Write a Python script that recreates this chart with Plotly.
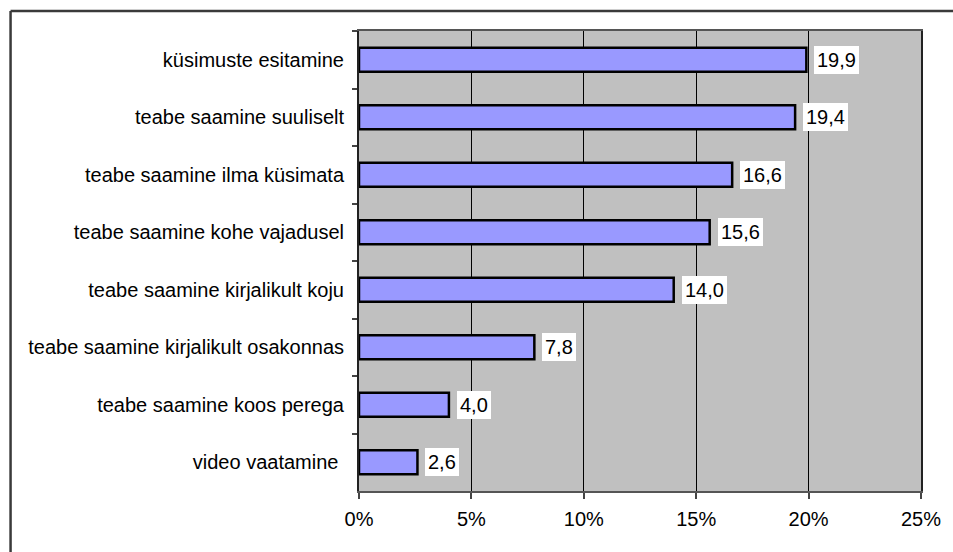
import plotly.graph_objects as go

# Survey items (top to bottom) and their shares in percent
categories = [
    "küsimuste esitamine",
    "teabe saamine suuliselt",
    "teabe saamine ilma küsimata",
    "teabe saamine kohe vajadusel",
    "teabe saamine kirjalikult koju",
    "teabe saamine kirjalikult osakonnas",
    "teabe saamine koos perega",
    "video vaatamine ",
]
values = [19.9, 19.4, 16.6, 15.6, 14.0, 7.8, 4.0, 2.6]
value_labels = ["19,9", "19,4", "16,6", "15,6", "14,0", "7,8", "4,0", "2,6"]
x_ticks = [0, 5, 10, 15, 20, 25]
x_tick_labels = ["0%", "5%", "10%", "15%", "20%", "25%"]

FONT = "Liberation Sans, Arial, sans-serif"
FONT_SIZE = 20

fig = go.Figure(
    go.Bar(
        x=values,
        y=categories,
        orientation="h",
        width=0.42,
        marker=dict(color="#9999FF", line=dict(color="black", width=2.5)),
        hoverinfo="skip",
    )
)

# value labels on white boxes to the right of each bar
for cat, v, lab in zip(categories, values, value_labels):
    fig.add_annotation(
        x=v, y=cat, xref="x", yref="y",
        text=lab, showarrow=False,
        xanchor="left", xshift=8,
        bgcolor="white", borderpad=3, borderwidth=0,
        font=dict(family=FONT, size=FONT_SIZE, color="black"),
    )

# outer chart frame: only its left and top edges fall inside the page
frame = dict(color="#3a3a3a", width=2.5)
fig.add_shape(type="line", xref="paper", yref="paper",
              x0=-0.620, x1=-0.620, y0=-1.0, y1=1.0435, line=frame, layer="below")
fig.add_shape(type="line", xref="paper", yref="paper",
              x0=-0.620, x1=2.0, y0=1.0435, y1=1.0435, line=frame, layer="below")

fig.update_layout(
    width=953, height=552,
    margin=dict(l=359, r=28, t=31, b=61),
    paper_bgcolor="white",
    plot_bgcolor="#C0C0C0",
    showlegend=False,
    font=dict(family=FONT, size=FONT_SIZE, color="black"),
    xaxis=dict(
        range=[0, 25],
        tickvals=x_ticks,
        ticktext=x_tick_labels,
        showgrid=True, gridcolor="black", gridwidth=1,
        zeroline=False,
        showline=True, linecolor="#555555", linewidth=1.5, mirror=True,
        ticks="outside", ticklen=6, tickcolor="#444444", tickwidth=1.5,
        ticklabelstandoff=3,
        fixedrange=True,
    ),
    yaxis=dict(
        autorange="reversed",
        showgrid=False,
        showline=True, linecolor="#222222", linewidth=2, mirror=True,
        ticks="outside", ticklen=5, tickcolor="#444444", tickwidth=1.5,
        tickson="boundaries",
        ticklabelstandoff=9,
        fixedrange=True,
    ),
    bargap=0.58,
)

fig.write_html("out.html", config={"displayModeBar": False})
